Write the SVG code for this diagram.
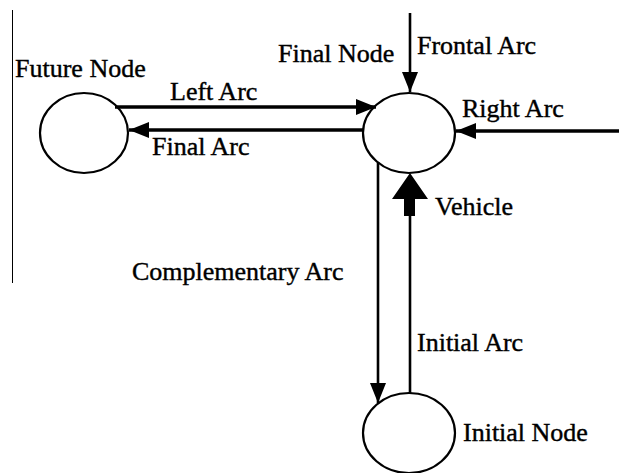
<svg xmlns="http://www.w3.org/2000/svg" width="619" height="473" viewBox="0 0 619 473">
  <style>
    .node { fill: #ffffff; stroke: #000000; stroke-width: 2.2; }
    .lbl { font-size: 26px; fill: #000000; stroke: #000000; stroke-width: 0.4; }
    .arc { stroke: #000000; fill: none; }
    .thick { stroke-width: 3.5; }
    .thin { stroke-width: 2.6; }
  </style>
  <defs>
    <marker id="ah" markerUnits="userSpaceOnUse" markerWidth="20" markerHeight="16" refX="20" refY="8" orient="auto">
      <path d="M0,0 L20,8 L0,16 z" fill="#000000"/>
    </marker>
  </defs>
  <rect x="0" y="0" width="619" height="473" fill="#ffffff"/>
  <line x1="12.5" y1="10" x2="12.5" y2="283" stroke="#000000" stroke-width="1"/>

  <g font-family="Liberation Serif, DejaVu Serif, serif">
  <g id="future-node">
    <ellipse class="node" cx="84" cy="133" rx="44" ry="40"/>
    <text class="lbl" x="15" y="77">Future Node</text>
  </g>
  <g id="final-node">
    <ellipse class="node" cx="409" cy="133" rx="46" ry="40"/>
    <text class="lbl" x="278" y="62">Final Node</text>
  </g>
  <g id="initial-node">
    <ellipse class="node" cx="409" cy="433" rx="46" ry="40"/>
    <text class="lbl" x="463" y="441">Initial Node</text>
  </g>

  <g id="connectors">
    <line class="arc thick" x1="115" y1="107" x2="376" y2="107" marker-end="url(#ah)"/>
    <line class="arc thick" x1="364" y1="130" x2="129" y2="130" marker-end="url(#ah)"/>
    <line class="arc thick" x1="619" y1="131" x2="456" y2="131" marker-end="url(#ah)"/>
    <line class="arc thin" x1="410" y1="13" x2="410" y2="92" marker-end="url(#ah)"/>
    <line class="arc thin" x1="378" y1="162" x2="378" y2="403" marker-end="url(#ah)"/>
    <line class="arc thin" x1="410" y1="393" x2="410" y2="214"/>
    <polygon points="410,173 428,199 415,199 415,216 404,216 404,199 392,199" fill="#000000"/>
    <text class="lbl" x="170" y="100">Left Arc</text>
    <text class="lbl" x="152" y="155">Final Arc</text>
    <text class="lbl" x="417" y="54">Frontal Arc</text>
    <text class="lbl" x="462" y="117">Right Arc</text>
    <text class="lbl" x="435" y="215">Vehicle</text>
    <text class="lbl" x="132" y="280">Complementary Arc</text>
    <text class="lbl" x="417" y="351">Initial Arc</text>
  </g>
  </g>
</svg>
